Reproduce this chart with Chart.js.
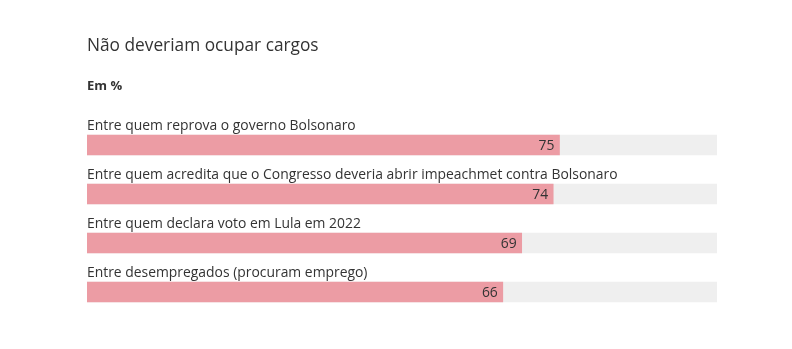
<!DOCTYPE html>
<html>
<head>
<meta charset="utf-8">
<script src="https://cdn.jsdelivr.net/npm/chart.js@4"></script>
<style>
html,body{margin:0;padding:0;background:#fff;}
#wrap{position:relative;width:792px;height:349px;}
</style>
</head>
<body>
<div id="wrap"><canvas id="chart" width="792" height="349"></canvas></div>
<script>
const categories=[
"Entre quem reprova o governo Bolsonaro",
"Entre quem acredita que o Congresso deveria abrir impeachmet contra Bolsonaro",
"Entre quem declara voto em Lula em 2022",
"Entre desempregados (procuram emprego)"
];
const values=[75,74,69,66];
const track=[100,100,100,100];

const FONT="'Open Sans', sans-serif";

const textPlugin={
id:"texts",
afterDatasetsDraw(chart){
const ctx=chart.ctx;
ctx.save();
// title and subtitle
ctx.fillStyle="#333";
ctx.textAlign="left";
ctx.textBaseline="alphabetic";
ctx.font="17.3px "+FONT;
ctx.fillText("Não deveriam ocupar cargos",87,51);
ctx.font="bold 13px "+FONT;
ctx.fillText("Em %",87,90);
const meta=chart.getDatasetMeta(0);
meta.data.forEach((bar,i)=>{
const top=bar.y-bar.height/2;
ctx.font="13.9px "+FONT;
ctx.fillStyle="#333";
ctx.textAlign="left";
ctx.fillText(categories[i],chart.chartArea.left,top-5);
ctx.textAlign="right";
ctx.textBaseline="middle";
ctx.fillText(values[i],bar.x-5,bar.y+1);
ctx.textBaseline="alphabetic";
});
ctx.restore();
}
};

new Chart(document.getElementById("chart"),{
type:"bar",
data:{
labels:categories,
datasets:[{
data:values,
backgroundColor:"#ec9ca4",
barThickness:20,
grouped:false,
order:1
},{
data:track,
backgroundColor:"#efefef",
barThickness:20,
grouped:false,
order:2
}]
},
options:{
indexAxis:"y",
responsive:false,
animation:false,
layout:{padding:{left:87,right:75,top:120.5,bottom:32.5}},
scales:{
x:{display:false,min:0,max:100},
y:{display:false}
},
plugins:{
legend:{display:false},
tooltip:{enabled:false}
}
},
plugins:[textPlugin]
});
</script>
</body>
</html>
